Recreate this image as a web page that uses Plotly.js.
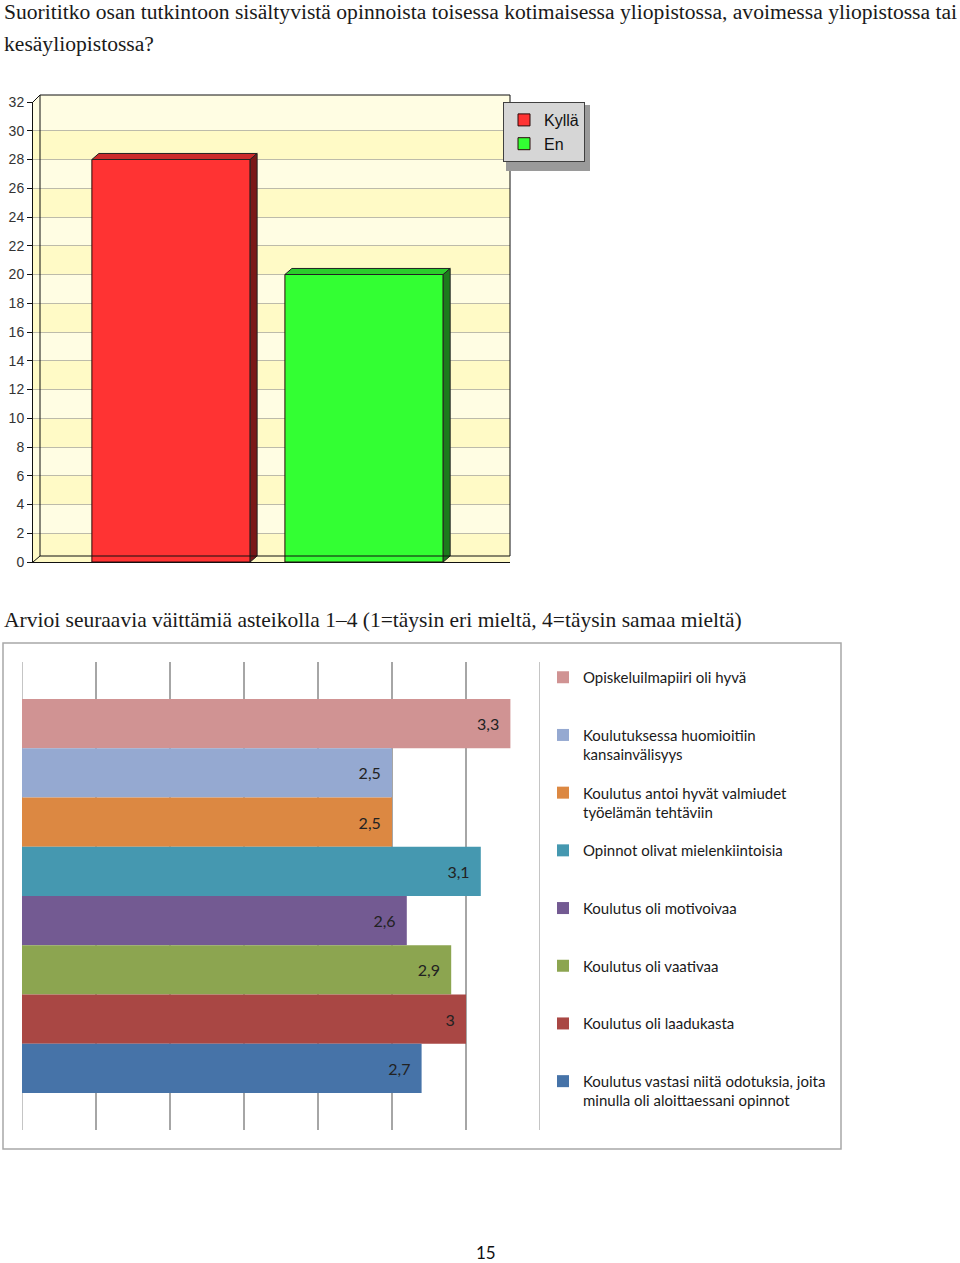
<!DOCTYPE html>
<html><head><meta charset="utf-8">
<script src="https://cdn.plot.ly/plotly-3.0.1.min.js"></script>
<style>html,body{margin:0;padding:0;background:#fff}#chart{width:960px;height:1263px}</style>
</head><body><div id="chart"></div>
<script>
// ---------- data: chart 1 ----------
const answerCategories = ['Kyllä', 'En'];
const answerCounts = [28, 20];
const answerColors = ['#ff3333', '#33ff33'];
const answerTopColors = ['#cc2b2b', '#2bcc2b'];
const answerSideColors = ['#7a1818', '#1c7a1c'];
const countTicks = [0, 2, 4, 6, 8, 10, 12, 14, 16, 18, 20, 22, 24, 26, 28, 30, 32];

// ---------- data: chart 2 ----------
const statements = [
  'Opiskeluilmapiiri oli hyvä',
  'Koulutuksessa huomioitiin<br>kansainvälisyys',
  'Koulutus antoi hyvät valmiudet<br>työelämän tehtäviin',
  'Opinnot olivat mielenkiintoisia',
  'Koulutus oli motivoivaa',
  'Koulutus oli vaativaa',
  'Koulutus oli laadukasta',
  'Koulutus vastasi niitä odotuksia, joita<br>minulla oli aloittaessani opinnot'
];
const ratings = [3.3, 2.5, 2.5, 3.1, 2.6, 2.9, 3, 2.7];
const statementColors = ['#d09393', '#95a9d1', '#dc8842', '#4598b0', '#735a92', '#8ca550', '#a94744', '#4673a8'];
const ratingTicks = [0, 0.5, 1, 1.5, 2, 2.5, 3, 3.5];

// ---------- texts ----------
const title1a = 'Suorititko osan tutkintoon sisältyvistä opinnoista toisessa kotimaisessa yliopistossa, avoimessa yliopistossa tai';
const title1b = 'kesäyliopistossa?';
const title2 = 'Arvioi seuraavia väittämiä asteikolla 1–4 (1=täysin eri mieltä, 4=täysin samaa mieltä)';
const pageNumber = '15';

// ---------- layout helpers ----------
const W = 960, H = 1263;
const px = v => v / W;
const py = v => 1 - v / H;

const barWidth1 = 0.82;
const depthX = 0.036;   // 3D depth in x units
const depthY = 0.42;    // 3D depth in y units

const traces = [];
const shapes = [];

// chart 1 bars
answerCategories.forEach((cat, i) => {
  traces.push({
    type: 'bar', x: [i], y: [answerCounts[i]], width: [barWidth1],
    name: cat, xaxis: 'x', yaxis: 'y', legend: 'legend',
    marker: { color: answerColors[i], line: { color: '#2a0a0a', width: 1 } },
    hoverinfo: 'skip'
  });
  const v = answerCounts[i], h = barWidth1 / 2;
  shapes.push({
    type: 'path', xref: 'x', yref: 'y', layer: 'above',
    path: `M${i - h},${v} L${i + h},${v} L${i + h + depthX},${v + depthY} L${i - h + depthX},${v + depthY} Z`,
    fillcolor: answerTopColors[i], line: { color: '#222', width: 1 }
  });
  shapes.push({
    type: 'path', xref: 'x', yref: 'y', layer: 'above',
    path: `M${i + h},0 L${i + h},${v} L${i + h + depthX},${v + depthY} L${i + h + depthX},${depthY} Z`,
    fillcolor: answerSideColors[i], line: { color: '#222', width: 1 }
  });
});

// chart 1 background bands
for (let k = 0; k < countTicks.length - 1; k++) {
  shapes.push({
    type: 'rect', xref: 'x domain', yref: 'y', x0: 0, x1: 1,
    y0: countTicks[k], y1: countTicks[k + 1], layer: 'below',
    fillcolor: k % 2 === 0 ? '#fffac6' : '#fffde3', line: { width: 0 }
  });
}
// chart 1 3D wall top strip and outline
shapes.push({
  type: 'path', xref: 'paper', yref: 'paper', layer: 'below',
  path: `M${px(33)},${py(102)} L${px(40)},${py(95)} L${px(510)},${py(95)} L${px(510)},${py(102)} Z`,
  fillcolor: '#fffde3', line: { width: 0 }
});
shapes.push({
  type: 'rect', xref: 'paper', yref: 'paper', layer: 'above',
  x0: px(40), x1: px(510), y0: py(556), y1: py(95),
  line: { color: '#111', width: 1 }
});
shapes.push({
  type: 'path', xref: 'paper', yref: 'paper', layer: 'above',
  path: `M${px(33)},${py(102)} L${px(40)},${py(95)} M${px(33)},${py(562)} L${px(40)},${py(556)}`,
  line: { color: '#111', width: 1 }
});
// chart 1 legend shadow
shapes.push({
  type: 'rect', xref: 'paper', yref: 'paper', layer: 'above',
  x0: px(506), x1: px(590), y0: py(171), y1: py(105),
  fillcolor: '#9a9a9a', line: { width: 0 }
});

// chart 2 bars
const plainStatements = statements.map(s => s.replace('<br>', ' '));
statements.forEach((s, i) => {
  const legendName = s.includes('<br>') ? s : s + '<br>\u00a0';
  traces.push({
    type: 'bar', orientation: 'h', x: [ratings[i]], y: [plainStatements[i]], width: [1],
    name: legendName, legendgroup: 'g' + i, xaxis: 'x2', yaxis: 'y2', legend: 'legend2',
    marker: { color: statementColors[i], line: { width: 0 } },
    text: [String(ratings[i]).replace('.', ',')],
    texttemplate: '%{text}\u00a0\u00a0',
    textposition: 'inside', insidetextanchor: 'end',
    textfont: { family: 'Lato, sans-serif', size: 16, color: '#222' },
    hoverinfo: 'skip'
  });
});
// chart 2 edge gridlines (first and last tick)
[ratingTicks[0], ratingTicks[ratingTicks.length - 1]].forEach(t => {
  shapes.push({
    type: 'line', xref: 'x2', yref: 'y2 domain', x0: t, x1: t, y0: 0, y1: 1,
    layer: 'below', line: { color: '#a6a6a6', width: 1.3 }
  });
});
// chart 2 frame
shapes.push({
  type: 'rect', xref: 'paper', yref: 'paper', layer: 'below',
  x0: px(3), x1: px(841), y0: py(1149), y1: py(643),
  line: { color: '#a8a8a8', width: 1.5 }
});

const serif = 'Liberation Serif, Times New Roman, serif';
const annotations = [
  { text: title1a, x: px(2), y: py(12), xref: 'paper', yref: 'paper', xanchor: 'left', yanchor: 'middle', showarrow: false, font: { family: serif, size: 21.6, color: '#1a1a1a' } },
  { text: title1b, x: px(2), y: py(44), xref: 'paper', yref: 'paper', xanchor: 'left', yanchor: 'middle', showarrow: false, font: { family: serif, size: 21.6, color: '#1a1a1a' } },
  { text: title2, x: px(2), y: py(620), xref: 'paper', yref: 'paper', xanchor: 'left', yanchor: 'middle', showarrow: false, font: { family: serif, size: 21.5, color: '#1a1a1a' } },
  { text: pageNumber, x: px(486), y: py(1252), xref: 'paper', yref: 'paper', xanchor: 'center', yanchor: 'middle', showarrow: false, font: { family: 'Lato, sans-serif', size: 17, color: '#111' } }
];

const layout = {
  width: W, height: H, margin: { l: 0, r: 0, t: 0, b: 0 },
  paper_bgcolor: '#ffffff', plot_bgcolor: 'rgba(0,0,0,0)',
  barmode: 'overlay', showlegend: true,
  xaxis: {
    domain: [px(33), px(510)], anchor: 'y', range: [-0.715, 1.756],
    showticklabels: false, showgrid: false, zeroline: false,
    showline: true, linecolor: '#111', linewidth: 1, ticks: '', fixedrange: true
  },
  yaxis: {
    domain: [py(562), py(102)], anchor: 'x', range: [0, 32],
    tickmode: 'array', tickvals: countTicks, ticktext: countTicks.map(String),
    ticks: 'outside', ticklen: 5, tickcolor: '#111', showline: true, linecolor: '#111', linewidth: 1,
    showgrid: true, gridcolor: '#bdbbaa', gridwidth: 1, zeroline: false,
    tickfont: { family: 'Liberation Sans, Arial, sans-serif', size: 14, color: '#333' }, fixedrange: true
  },
  xaxis2: {
    domain: [px(22), px(540)], anchor: 'y2', range: [0, 3.5],
    tickmode: 'array', tickvals: ratingTicks, showticklabels: false, ticks: '',
    showgrid: true, gridcolor: '#a6a6a6', gridwidth: 1.3, zeroline: false, showline: false, fixedrange: true
  },
  yaxis2: {
    domain: [py(1130), py(662)], anchor: 'x2', type: 'category',
    categoryorder: 'array', categoryarray: plainStatements, range: [8.25, -1.25],
    showticklabels: false, showgrid: false, zeroline: false, showline: false, ticks: '', fixedrange: true
  },
  legend: {
    x: px(503), y: py(102), xanchor: 'left', yanchor: 'top',
    bgcolor: '#d6d6d6', bordercolor: '#404040', borderwidth: 1,
    font: { family: 'Liberation Sans, Arial, sans-serif', size: 16, color: '#111' },
    tracegroupgap: 0, itemclick: false, itemdoubleclick: false
  },
  legend2: {
    x: px(543), y: py(661), xanchor: 'left', yanchor: 'top',
    bgcolor: 'rgba(0,0,0,0)', borderwidth: 0, valign: 'top',
    font: { family: 'Lato, sans-serif', size: 15, color: '#1a1a1a' },
    traceorder: 'grouped', tracegroupgap: 15.7, itemclick: false, itemdoubleclick: false
  },
  shapes: shapes,
  annotations: annotations
};

Plotly.newPlot('chart', traces, layout, { staticPlot: true, displayModeBar: false });
</script>
</body></html>
